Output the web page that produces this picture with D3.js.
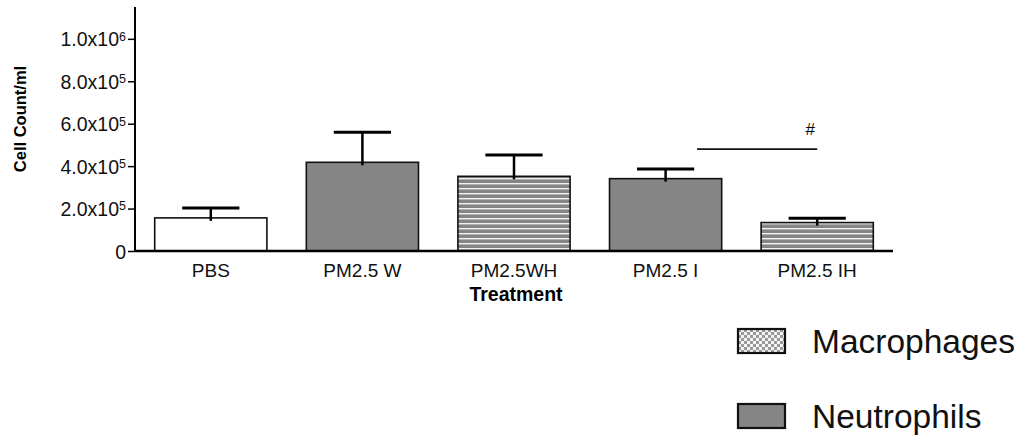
<!DOCTYPE html>
<html>
<head>
<meta charset="utf-8">
<script src="https://cdn.jsdelivr.net/npm/d3@7"></script>
<style>
  body { margin: 0; background: #fff; }
  svg { display: block; font-family: "Liberation Sans", Arial, sans-serif; }
</style>
</head>
<body>
<svg width="1035" height="441"></svg>
<script>
  // data
  const groups = ["PBS", "PM2.5 W", "PM2.5WH", "PM2.5 I", "PM2.5 IH"];
  const means = [1.56e5, 4.18e5, 3.52e5, 3.41e5, 1.34e5];
  const sems = [0.47e5, 1.42e5, 1.01e5, 0.46e5, 0.20e5];
  const fillKinds = ["white", "solid", "stripes", "solid", "stripes"];
  const tickValues = [0, 2e5, 4e5, 6e5, 8e5, 1e6];
  const sigFrom = "PM2.5 I";
  const sigTo = "PM2.5 IH";
  const sigValue = 4.8e5;
  const sigLabel = "#";
  const legendNames = ["Macrophages", "Neutrophils"];
  const legendKinds = ["checker", "solid"];

  const svg = d3.select("svg");
  const gray = "#858585";

  const defs = svg.append("defs");
  const stripes = defs.append("pattern")
    .attr("id", "stripes")
    .attr("patternUnits", "userSpaceOnUse")
    .attr("width", 10).attr("height", 5);
  stripes.append("rect").attr("width", 10).attr("height", 5).attr("fill", gray);
  stripes.append("rect").attr("y", 3).attr("width", 10).attr("height", 1.4).attr("fill", "#f2f2f2");

  const checker = defs.append("pattern")
    .attr("id", "checker")
    .attr("patternUnits", "userSpaceOnUse")
    .attr("width", 6).attr("height", 6);
  checker.append("rect").attr("width", 6).attr("height", 6).attr("fill", "#f4f4f4");
  checker.append("rect").attr("width", 3).attr("height", 3).attr("fill", "#9a9a9a");
  checker.append("rect").attr("x", 3).attr("y", 3).attr("width", 3).attr("height", 3).attr("fill", "#9a9a9a");

  const fillFor = (k) => k === "white" ? "#fff" : k === "solid" ? gray : `url(#${k})`;

  const x = d3.scaleBand()
    .domain(groups)
    .range([135, 893])
    .paddingInner(0.26)
    .paddingOuter(0.13);

  const y = d3.scaleLinear()
    .domain([0, 1.15e6])
    .range([251, 7]);

  const data = groups.map((g, i) => ({ g, mean: means[i], sem: sems[i], kind: fillKinds[i] }));

  // bars
  svg.append("g")
    .selectAll("rect")
    .data(data)
    .join("rect")
    .attr("x", (d) => x(d.g))
    .attr("y", (d) => y(d.mean))
    .attr("width", x.bandwidth())
    .attr("height", (d) => y(0) - y(d.mean))
    .attr("fill", (d) => fillFor(d.kind))
    .attr("stroke", "#111")
    .attr("stroke-width", 1.6);

  // error bars
  const capW = x.bandwidth() * 0.51;
  const err = svg.append("g").attr("stroke", "#000");
  err.selectAll("line.v")
    .data(data)
    .join("line")
    .attr("class", "v")
    .attr("x1", (d) => x(d.g) + x.bandwidth() / 2)
    .attr("x2", (d) => x(d.g) + x.bandwidth() / 2)
    .attr("y1", (d) => y(d.mean) + 3)
    .attr("y2", (d) => y(d.mean + d.sem))
    .attr("stroke-width", 2.5);
  err.selectAll("line.c")
    .data(data)
    .join("line")
    .attr("class", "c")
    .attr("x1", (d) => x(d.g) + x.bandwidth() / 2 - capW / 2)
    .attr("x2", (d) => x(d.g) + x.bandwidth() / 2 + capW / 2)
    .attr("y1", (d) => y(d.mean + d.sem))
    .attr("y2", (d) => y(d.mean + d.sem))
    .attr("stroke-width", 3);

  // y axis
  const fmtSup = (v) => {
    if (v === 0) return { base: "0", sup: "" };
    const e = Math.floor(Math.log10(v));
    return { base: (v / Math.pow(10, e)).toFixed(1) + "x10", sup: String(e) };
  };

  const yAxis = svg.append("g")
    .attr("transform", "translate(135,0)")
    .call(d3.axisLeft(y).tickValues(tickValues).tickSize(7).tickPadding(3).tickFormat(""));
  yAxis.select(".domain").attr("stroke-width", 2).attr("d", `M0,${y(0)}V${y.range()[1]}`);
  yAxis.selectAll(".tick line").attr("stroke-width", 1.5);
  yAxis.selectAll(".tick text").remove();
  yAxis.selectAll(".tick").each(function (v) {
    const f = fmtSup(v);
    const t = d3.select(this).append("text")
      .attr("x", -9)
      .attr("dy", "0.36em")
      .attr("text-anchor", "end")
      .attr("fill", "#111")
      .attr("font-size", 19.5);
    t.append("tspan").text(f.base);
    if (f.sup) t.append("tspan").attr("dy", "-0.45em").attr("font-size", 12.5).text(f.sup);
  });

  // x axis
  const xAxis = svg.append("g")
    .attr("transform", `translate(0,${y(0)})`)
    .call(d3.axisBottom(x).tickSize(0).tickPadding(11));
  xAxis.select(".domain").attr("stroke-width", 2.5).attr("d", `M135,0H893`);
  xAxis.selectAll(".tick text").attr("font-size", 19).attr("fill", "#111").attr("dy", "0.8em");

  svg.append("text")
    .attr("x", x("PM2.5WH") + x.bandwidth() / 2 + 2)
    .attr("y", 301)
    .attr("text-anchor", "middle")
    .attr("font-weight", "bold")
    .attr("font-size", 19.5)
    .text("Treatment");

  svg.append("text")
    .attr("transform", "translate(26,119) rotate(-90)")
    .attr("text-anchor", "middle")
    .attr("font-weight", "bold")
    .attr("font-size", 16.5)
    .text("Cell Count/ml");

  // significance marker
  const sx1 = x(sigFrom) + x.bandwidth() * 0.78;
  const sx2 = x(sigTo) + x.bandwidth() / 2;
  svg.append("line")
    .attr("x1", sx1).attr("x2", sx2)
    .attr("y1", y(sigValue)).attr("y2", y(sigValue))
    .attr("stroke", "#111").attr("stroke-width", 1.8);
  svg.append("text")
    .attr("x", sx2 - 7)
    .attr("y", y(sigValue) - 14)
    .attr("text-anchor", "middle")
    .attr("font-size", 17)
    .text(sigLabel);

  // legend
  const legend = svg.append("g").attr("transform", "translate(738,329)");
  const item = legend.selectAll("g")
    .data(legendNames)
    .join("g")
    .attr("transform", (d, i) => `translate(0,${i * 75})`);
  item.append("rect")
    .attr("width", 47).attr("height", 24)
    .attr("fill", (d, i) => fillFor(legendKinds[i]))
    .attr("stroke", "#111").attr("stroke-width", 2.2);
  item.append("text")
    .attr("x", 74).attr("y", 24)
    .attr("font-size", 33.5)
    .attr("fill", "#111")
    .text((d) => d);
</script>
</body>
</html>
